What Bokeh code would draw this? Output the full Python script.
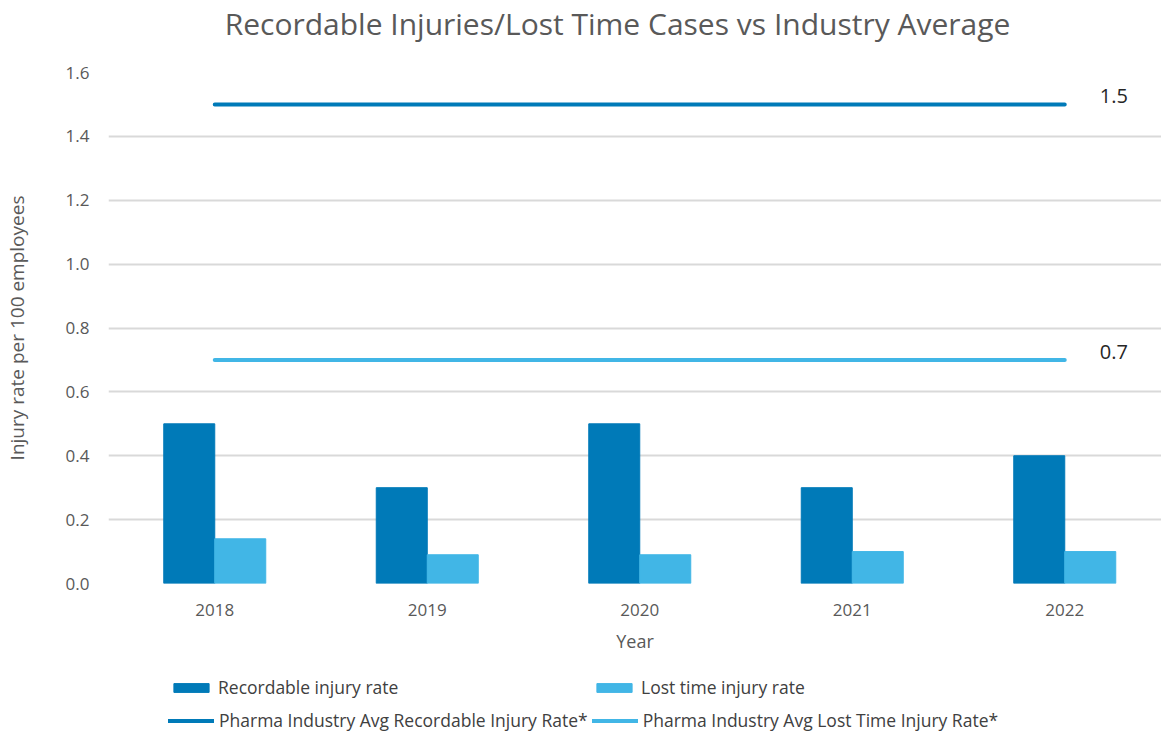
from bokeh.plotting import figure
from bokeh.layouts import column
from bokeh.models import ColumnDataSource, Legend, LegendItem, FixedTicker, NumeralTickFormatter, Range1d
from bokeh.core.properties import value
from bokeh.embed import file_html
from bokeh.resources import INLINE

title = "Recordable Injuries/Lost Time Cases vs Industry Average"
years = ["2018", "2019", "2020", "2021", "2022"]
recordable = [0.5, 0.3, 0.5, 0.3, 0.4]
lost_time = [0.14, 0.09, 0.09, 0.10, 0.10]
avg_recordable = 1.5
avg_lost_time = 0.7
series_names = ["Recordable injury rate", "Lost time injury rate",
                "Pharma Industry Avg Recordable Injury Rate*", "Pharma Industry Avg Lost Time Injury Rate*"]

DARK = "#007AB8"
LIGHT = "#41B6E6"
GREY = "#595959"
FONT = "Open Sans"

W = 1161
LEFT = 108
HEADER_H = 60
LEGEND_H = 69

# ---------- header (title) ----------
hf = figure(width=W, height=HEADER_H, output_backend="svg", toolbar_location=None,
            x_range=Range1d(LEFT, W), y_range=Range1d(0, HEADER_H),
            x_axis_location=None, y_axis_location=None,
            min_border_left=LEFT, min_border_right=0, min_border_top=0, min_border_bottom=0)
hf.outline_line_color = None
hf.grid.visible = False
hf.text(x=[617], y=[HEADER_H - 23], text=[title], text_align="center", text_baseline="middle",
        text_font=value(FONT), text_font_size="30px", text_color=GREY)

# ---------- main chart ----------
idx = list(range(len(years)))
bw = 0.24

p = figure(frame_width=W - LEFT, frame_height=511, output_backend="svg", toolbar_location=None,
           x_range=Range1d(-0.5, -0.5 + (W - LEFT) / 212.5), y_range=Range1d(0, 1.6),
           min_border_left=LEFT, min_border_right=0, min_border_top=12, min_border_bottom=80)
p.outline_line_color = None
p.background_fill_color = "white"

src = ColumnDataSource(dict(x=idx, rec=recordable, lost=lost_time,
                            xr=[i - bw / 2 for i in idx], xl=[i + bw / 2 for i in idx],
                            avg_rec=[avg_recordable] * len(idx), avg_lost=[avg_lost_time] * len(idx)))
p.vbar(x="xr", top="rec", width=bw, source=src, fill_color=DARK, line_color=DARK)
p.vbar(x="xl", top="lost", width=bw, source=src, fill_color=LIGHT, line_color=LIGHT)
p.line(x="x", y="avg_rec", source=src, line_color=DARK, line_width=4, line_cap="round")
p.line(x="x", y="avg_lost", source=src, line_color=LIGHT, line_width=4, line_cap="round")

p.text(x=[idx[-1], idx[-1]], y=[avg_recordable, avg_lost_time],
       text=[f"{avg_recordable:.1f}", f"{avg_lost_time:.1f}"],
       x_offset=35, y_offset=-8, text_baseline="middle", text_align="left",
       text_font=value(FONT), text_font_size="20px", text_color="#262626")

p.xaxis.ticker = FixedTicker(ticks=idx)
p.xaxis.major_label_overrides = {i: y for i, y in zip(idx, years)}
p.yaxis.ticker = FixedTicker(ticks=[0, 0.2, 0.4, 0.6, 0.8, 1.0, 1.2, 1.4, 1.6])
p.yaxis.formatter = NumeralTickFormatter(format="0.0")
for ax in (p.xaxis, p.yaxis):
    ax.axis_line_color = None
    ax.major_tick_line_color = None
    ax.minor_tick_line_color = None
    ax.major_tick_out = 0
    ax.major_tick_in = 0
    ax.minor_tick_out = 0
    ax.major_label_text_font = FONT
    ax.major_label_text_font_size = "17px"
    ax.major_label_text_color = GREY
    ax.axis_label_text_font = FONT
    ax.axis_label_text_font_style = "normal"
    ax.axis_label_text_color = GREY
p.xaxis.axis_label = "Year"
p.yaxis.axis_label = "Injury rate per 100 employees"
p.xaxis.axis_label_text_font_size = "18px"
p.yaxis.axis_label_text_font_size = "19px"
p.xaxis.major_label_standoff = 20
p.yaxis.major_label_standoff = 19
p.xaxis.axis_label_standoff = 10
p.yaxis.axis_label_standoff = 33

p.xgrid.grid_line_color = None
p.ygrid.grid_line_color = "#D9D9D9"
p.ygrid.grid_line_width = 2

# ---------- legend (proxy renderers share the data but lie far outside the view) ----------
lf = figure(width=W, height=LEGEND_H, output_backend="svg", toolbar_location=None,
            x_range=Range1d(1000, 1001), y_range=Range1d(1000, 1001),
            x_axis_location=None, y_axis_location=None,
            min_border_left=LEFT, min_border_right=0, min_border_top=0, min_border_bottom=0)
lf.outline_line_color = None
lf.grid.visible = False
g1 = lf.vbar(x="xr", top="rec", width=bw, source=src, fill_color=DARK, line_color=DARK)
g2 = lf.vbar(x="xl", top="lost", width=bw, source=src, fill_color=LIGHT, line_color=LIGHT)
g3 = lf.line(x="x", y="avg_rec", source=src, line_color=DARK, line_width=4, line_cap="round")
g4 = lf.line(x="x", y="avg_lost", source=src, line_color=LIGHT, line_width=4, line_cap="round")

common = dict(orientation="horizontal", border_line_color=None, background_fill_alpha=0,
              label_text_font=FONT, label_text_font_size="17.5px", label_text_color="#404040",
              label_standoff=5, spacing=4, label_height=20, padding=0, margin=0)
leg1 = Legend(items=[LegendItem(label=series_names[0], renderers=[g1]),
                     LegendItem(label=series_names[1], renderers=[g2])],
              location=(169 - LEFT, 33), glyph_width=44, glyph_height=11, label_width=370, **common)
leg2 = Legend(items=[LegendItem(label=series_names[2], renderers=[g3]),
                     LegendItem(label=series_names[3], renderers=[g4])],
              location=(168 - LEFT, 0), glyph_width=46, glyph_height=11, label_width=368, **common)
lf.add_layout(leg1)
lf.add_layout(leg2)

open("out.html", "w").write(file_html(column(hf, p, lf), INLINE))
